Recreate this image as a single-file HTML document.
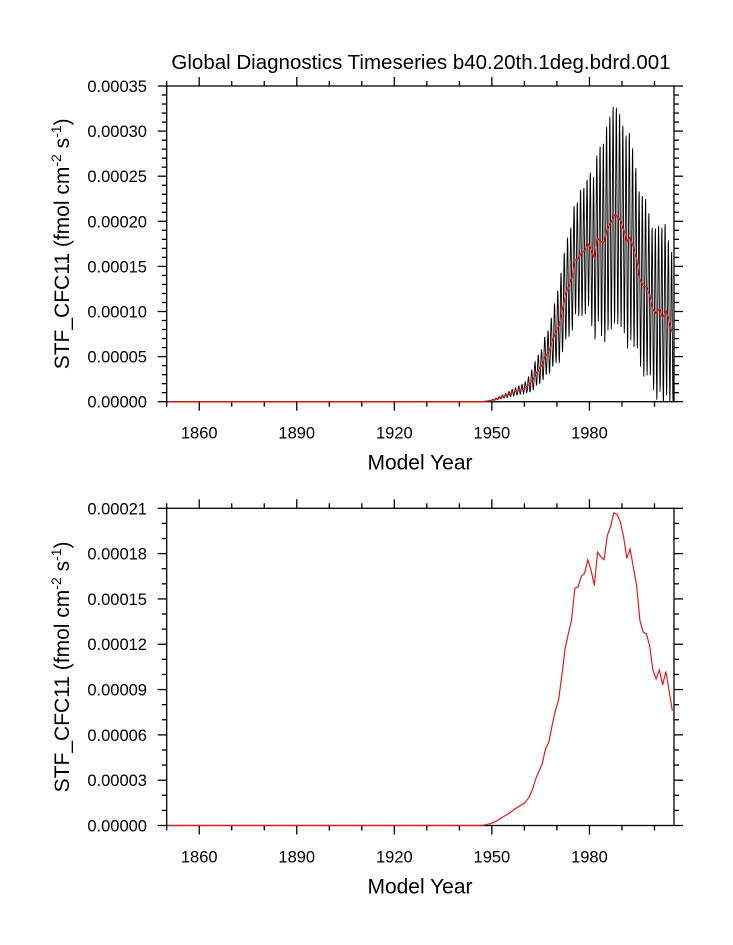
<!DOCTYPE html>
<html><head><meta charset="utf-8">
<style>
html,body{margin:0;padding:0;background:#fff;}
svg{display:block;font-family:"Liberation Sans",Arial,sans-serif;}
</style></head>
<body>
<svg id="chart" width="733" height="945" viewBox="0 0 733 945" xmlns="http://www.w3.org/2000/svg">
<text x="421" y="69" font-size="20.5" text-anchor="middle">Global Diagnostics Timeseries b40.20th.1deg.bdrd.001</text>
<g id="top"></g>
<g id="bot"></g>
</svg>
<script>
// annual mean STF_CFC11, starting year 1945 (zero before)
const startYear = 1945;
const annualValues = [0,0,0.0000003,0.0000007,0.0000012,0.000002,0.000003,0.0000045,0.0000058,0.000007,0.0000085,0.00001,0.0000115,0.000013,0.000014,
0.000016,0.000019,0.000024,0.000031,0.000036,0.000041,0.000051,0.000055,0.000066,0.000076,0.000083,0.000099,0.000117,0.000127,0.000136,
0.000157,0.000158,0.000165,0.000167,0.000176,0.000169,0.000159,0.000181,0.000178,0.000176,0.000192,0.000198,0.000207,0.000206,0.000201,
0.000191,0.000177,0.000183,0.000171,0.000159,0.000136,0.000128,0.000127,0.000119,0.000103,0.000097,0.000103,0.000093,0.000102,0.000089,0.000076];
// seasonal half-range per year (same start year)
const seasonalAmp = [0,0,0.0000001,0.0000002,0.0000003,0.0000005,0.0000008,0.0000012,0.0000017,0.0000023,0.000003,0.0000036,0.000004,0.0000045,0.0000052,
0.000006,0.0000085,0.000011,0.000013,0.000016,0.000017,0.000021,0.000024,0.000027,0.000033,0.00004,0.000044,0.000048,0.000055,0.000057,
0.00006,0.000063,0.00007,0.00007,0.00007,0.000085,0.00009,0.000092,0.000105,0.00011,0.000113,0.000118,0.00012,0.00012,0.000118,
0.000115,0.000118,0.000115,0.00011,0.0001,0.000097,0.0001,0.000098,0.00009,0.00009,0.000095,0.000092,0.0001,0.000095,0.00009,0.00009];
const seasonalShape = [0.2,0.6,0.95,1,0.7,0.2,-0.3,-0.75,-1,-0.9,-0.5,-0.1];
const xTickLabels = [1860,1890,1920,1950,1980];
const topYTicks = ["0.00000","0.00005","0.00010","0.00015","0.00020","0.00025","0.00030","0.00035"];
const botYTicks = ["0.00000","0.00003","0.00006","0.00009","0.00012","0.00015","0.00018","0.00021"];

const NS="http://www.w3.org/2000/svg";
const X0=166.7, X1=674, YR0=1850, YR1=2006;
function xs(yr){return X0+(yr-YR0)*(X1-X0)/(YR1-YR0);}
function mk(tag,parent,attrs){const e=document.createElementNS(NS,tag);for(const k in attrs)e.setAttribute(k,attrs[k]);parent.appendChild(e);return e;}

function panel(g,yTop,yBot,ymax,ticks,minorStep){
  const ys=v=>yBot-(v/ymax)*(yBot-yTop);
  const ax=mk('g',g,{stroke:'#000','stroke-width':1.3,fill:'none'});
  
  
  mk('rect',ax,{x:X0,y:yTop,width:X1-X0,height:yBot-yTop});
  for(let yr=1850;yr<=2000;yr+=10){
    const major=xTickLabels.includes(yr), L=major?9:5, x=xs(yr);
    mk('line',ax,{x1:x,x2:x,y1:yBot,y2:yBot+L});
    mk('line',ax,{x1:x,x2:x,y1:yTop,y2:yTop-L});
  }
  const nMinor=Math.round(ymax/minorStep), per=nMinor/(ticks.length-1);
  for(let i=0;i<=nMinor;i++){
    const y=ys(i*minorStep), L=(i%per===0)?9:5;
    mk('line',ax,{x1:X0,x2:X0-L,y1:y,y2:y});
    mk('line',ax,{x1:X1,x2:X1+L,y1:y,y2:y});
  }
  xTickLabels.forEach(yr=>{
    const t=mk('text',g,{x:xs(yr),y:yBot+37,'font-size':16.5,'text-anchor':'middle'});
    
    
    t.textContent=yr;
  });
  ticks.forEach((lab,i)=>{
    const t=mk('text',g,{x:147,y:ys(parseFloat(lab))+6,'font-size':16.5,'text-anchor':'end'});
    
    
    t.textContent=lab;
  });
  const xt=mk('text',g,{x:420,y:yBot+68,'font-size':21,'text-anchor':'middle'});
  
  
  xt.textContent='Model Year';
  const cy=(yTop+yBot)/2;
  const yt=mk('text',g,{x:0,y:0,'font-size':21,'text-anchor':'middle',transform:`translate(69,${cy}) rotate(-90)`});
  
  
  yt.innerHTML='STF_CFC11 (fmol cm<tspan dy="-8" font-size="14">-2</tspan><tspan dy="8"> s</tspan><tspan dy="-8" font-size="14">-1</tspan><tspan dy="8">)</tspan>';
  return ys;
}
function annualPath(ys){
  let d=`M${xs(YR0+0.5)},${ys(0)}`;
  d+=` L${xs(startYear-0.5)},${ys(0)}`;
  annualValues.forEach((v,i)=>{d+=` L${xs(startYear+i+0.5)},${ys(v)}`;});
  return d;
}
// top panel
const gt=document.getElementById('top');
const yst=panel(gt,86,401.7,0.00035,topYTicks,0.00001);
let dm=`M${xs(YR0)},${yst(0)} L${xs(startYear)},${yst(0)}`;
annualValues.forEach((v,i)=>{
  for(let m=0;m<12;m++){
    const val=Math.max(0,v+seasonalAmp[i]*seasonalShape[m]);
    dm+=` L${xs(startYear+i+(m+0.5)/12)},${yst(val)}`;
  }
});
const monthly=mk('path',gt,{d:dm,fill:'none',stroke:'#000','stroke-width':0.9});


const rTop=mk('path',gt,{d:annualPath(yst),fill:'none',stroke:'#e8191b','stroke-width':1.2});


// bottom panel
const gb=document.getElementById('bot');
const ysb=panel(gb,508.3,825.5,0.00021,botYTicks,0.00001);
const rBot=mk('path',gb,{d:annualPath(ysb),fill:'none',stroke:'#e8191b','stroke-width':1.2});


</script>
</body></html>
